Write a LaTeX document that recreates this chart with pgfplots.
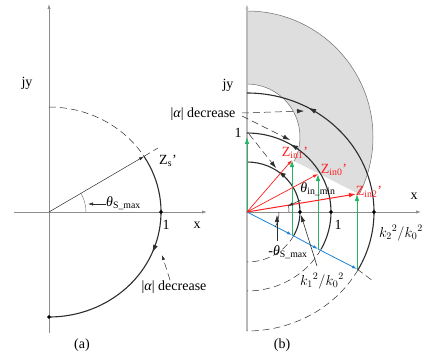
\documentclass[border=0pt]{standalone}
\usepackage{fontspec}
\setmainfont{Liberation Serif}
\usepackage{pgfplots}
\pgfplotsset{compat=1.18}
\usetikzlibrary{arrows.meta,decorations.markings}
\definecolor{axgray}{RGB}{140,140,140}
\definecolor{axlight}{RGB}{185,185,185}
\definecolor{dk}{RGB}{45,45,45}
\definecolor{gfill}{RGB}{222,222,222}
\definecolor{gline}{RGB}{110,110,110}
\definecolor{myred}{RGB}{255,30,30}
\definecolor{mygreen}{RGB}{40,180,100}
\definecolor{myblue}{RGB}{30,130,210}
\tikzset{
  tipS/.style={-{Latex[length=5pt,width=3.2pt]}},
  tipM/.style={-{Latex[length=7pt,width=4.5pt]}},
  dsh/.style={dash pattern=on 7pt off 4pt},
  lbl/.style={font=\fontsize{14}{16}\selectfont, inner sep=0pt},
  amark/.style n args={1}{postaction={decorate},decoration={markings,mark=at position #1 with {\arrow{Latex[length=8pt,width=5pt]}}}},
  rmark/.style n args={1}{postaction={decorate},decoration={markings,mark=at position #1 with {\arrowreversed{Latex[length=8pt,width=5pt]}}}}
}
\begin{document}
\begin{tikzpicture}
\begin{axis}[width=428pt,height=362pt,scale only axis,xmin=0,xmax=428,ymin=0,ymax=362,hide axis,clip=false]
\path (axis cs:0,0) rectangle (axis cs:428,362);
% ================= Panel (a) =================
\addplot[axgray, line width=0.7pt, tipS] coordinates {(49,29) (49,358)};
\addplot[axgray, line width=0.7pt, tipS] coordinates {(14,150) (207,150)};
\draw[dk, line width=0.5pt, dsh] (axis cs:49,255) arc[start angle=90,end angle=32,x radius=112pt,y radius=105pt];
\draw[dk, line width=1.1pt, amark={0.44}] (axis cs:49,150) ++(32:112pt and 105pt) arc[start angle=32,end angle=-90,x radius=112pt,y radius=105pt];
\addplot[dk, line width=0.5pt, tipS] coordinates {(49,150) (144,205.6)};
\addplot[dk, line width=0.5pt, dsh] coordinates {(144,205.6) (158,214)};
\draw[gline, line width=0.4pt] (axis cs:86,150) arc[start angle=0,end angle=31,radius=37pt];
\addplot[dk, line width=0.5pt, tipS] coordinates {(106,158) (88,158)};
\addplot[dk, line width=0.5pt, dsh, tipS] coordinates {(170,82) (162,107)};
\addplot[only marks, mark=*, mark size=1.7pt, black] coordinates {(161,150) (49,45)};
\node[lbl, anchor=west] at (axis cs:106,159) {\textit{θ}\textsubscript{S\_max}};
\node[lbl] at (axis cs:166,137) {1};
\node[lbl] at (axis cs:197,137) {x};
\node[lbl] at (axis cs:27,279) {jy};
\node[lbl] at (axis cs:168,201) {Z\textsubscript{s}’};
\node[lbl] at (axis cs:174,75) {|\textit{α}| decrease};
\node[lbl] at (axis cs:82,17) {(a)};
% ================= Panel (b) =================
\fill[gfill] (axis cs:247,351) arc[start angle=90,end angle=-27,radius=126pt] -- (axis cs:294.2,200.9) arc[start angle=-27,end angle=90,radius=53pt] -- cycle;
\draw[gline, line width=0.5pt] (axis cs:247,351) arc[start angle=90,end angle=-27,radius=126pt];
\draw[gline, line width=0.5pt] (axis cs:294.2,200.9) arc[start angle=-27,end angle=90,radius=53pt];
\addplot[axlight, line width=1.3pt, tipS] coordinates {(247,31) (247,358)};
\addplot[axgray, line width=0.7pt, tipS] coordinates {(247,150) (421,150)};
% solid arcs
\draw[dk, line width=1.1pt, rmark={0.31}] (axis cs:247,200) arc[start angle=90,end angle=-28,x radius=53pt,y radius=50pt];
\draw[dk, line width=1.1pt, rmark={0.27}] (axis cs:247,229) arc[start angle=90,end angle=-28,x radius=84pt,y radius=79pt];
\draw[dk, line width=1.1pt, rmark={0.25}] (axis cs:247,269) arc[start angle=90,end angle=-29,x radius=127pt,y radius=119pt];
% dashed continuations
\draw[dk, line width=0.5pt, dsh] (axis cs:247,150) ++(-28:53pt and 50pt) arc[start angle=-28,end angle=-90,x radius=53pt,y radius=50pt];
\draw[dk, line width=0.5pt, dsh] (axis cs:247,150) ++(-28:84pt and 79pt) arc[start angle=-28,end angle=-90,x radius=84pt,y radius=79pt];
\draw[dk, line width=0.5pt, dsh] (axis cs:247,150) ++(-29:127pt and 119pt) arc[start angle=-29,end angle=-90,x radius=127pt,y radius=119pt];
% blue line
\addplot[myblue, line width=0.8pt, tipS] coordinates {(247,150) (292,127)};
\addplot[myblue, line width=0.8pt, tipS] coordinates {(292,127) (318,113)};
\addplot[myblue, line width=0.8pt, tipS] coordinates {(318,113) (357,93)};
\addplot[dk, line width=0.5pt, dsh] coordinates {(357,93) (373,81)};
% green arrows
\addplot[mygreen, line width=0.8pt, tipM] coordinates {(247,150) (247,225)};
\addplot[mygreen, line width=0.8pt, tipM] coordinates {(292,127) (292,202)};
\addplot[mygreen, line width=0.8pt, tipM] coordinates {(318,113) (318,188)};
\addplot[mygreen, line width=0.8pt, tipM] coordinates {(357,93) (357,168)};
% red arrows
\addplot[myred, line width=0.7pt, tipS] coordinates {(247,150) (292,202)};
\addplot[myred, line width=0.7pt, tipS] coordinates {(247,150) (318,188)};
\addplot[myred, line width=1pt, tipM] coordinates {(247,150) (356,168)};
% dots
\addplot[only marks, mark=*, mark size=1.7pt, black] coordinates {(300,150) (331,150) (374,150)};
% angle marks
\draw[dk, line width=0.5pt] (axis cs:279,150) arc[start angle=0,end angle=-28,radius=32pt];
\addplot[dk, line width=0.6pt, tipM] coordinates {(277,121) (277,147)};
\draw[dk, line width=0.5pt] (axis cs:289,150) arc[start angle=0,end angle=9.3,radius=42pt];
\addplot[dk, line width=0.5pt, tipS] coordinates {(301,162) (288,156)};
\addplot[dk, line width=0.6pt, tipM] coordinates {(317,96) (301,147)};
% |alpha| decrease dashed arrows
\addplot[dk, line width=0.5pt, dsh, tipM] coordinates {(242,249) (304,251)};
\addplot[dk, line width=0.5pt, dsh, tipM] coordinates {(242,246) (290,222)};
\addplot[dk, line width=0.5pt, dsh, tipM] coordinates {(249,228) (276,194)};
% labels
\node[lbl] at (axis cs:228,277) {jy};
\node[lbl] at (axis cs:238,229) {1};
\node[lbl] at (axis cs:203,248) {|\textit{α}| decrease};
\node[lbl] at (axis cs:338,137) {1};
\node[lbl] at (axis cs:414,166) {x};
\node[lbl, myred] at (axis cs:295,209) {Z\textsubscript{in1}’};
\node[lbl, myred] at (axis cs:334,192) {Z\textsubscript{in0}’};
\node[lbl, myred] at (axis cs:369,170) {Z\textsubscript{in2}’};
\node[lbl] at (axis cs:318,173) {\textit{θ}\textsubscript{in\_min}};
\node[lbl] at (axis cs:288,110) {-\textit{θ}\textsubscript{S\_max}};
\node[lbl] at (axis cs:322,81) {${k_1}^{2}/{k_0}^{2}$};
\node[lbl] at (axis cs:401,129) {${k_2}^{2}/{k_0}^{2}$};
\node[lbl] at (axis cs:282,17) {(b)};
\end{axis}
\end{tikzpicture}
\end{document}
